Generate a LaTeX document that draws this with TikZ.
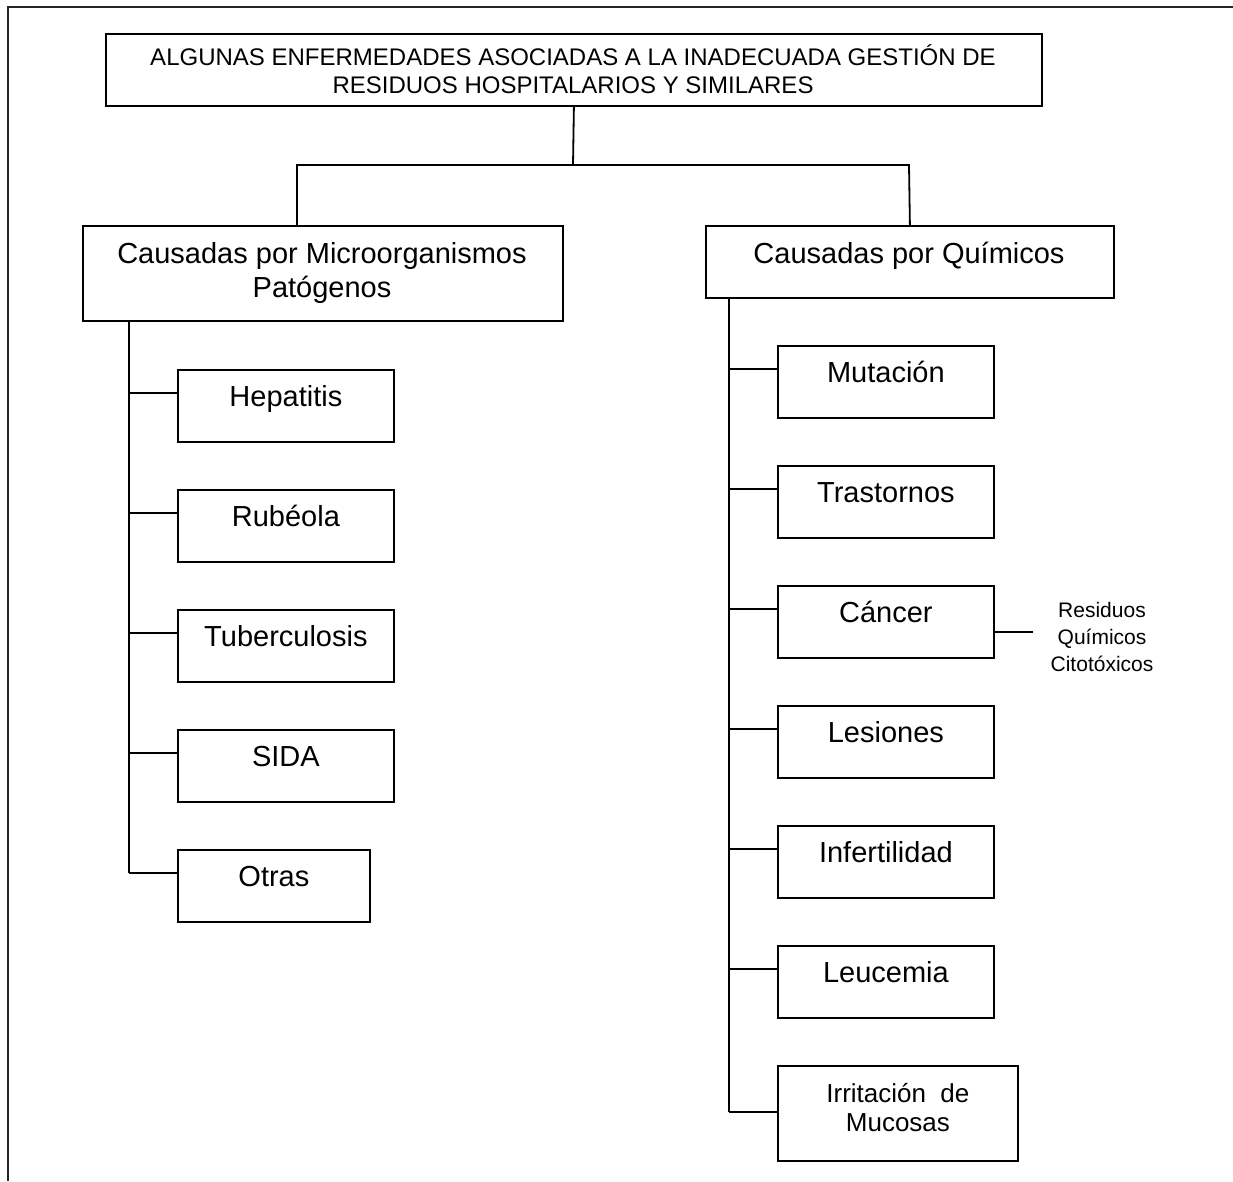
\documentclass[tikz,border=0pt]{standalone}
\usepackage{fontspec}
\setmainfont{Liberation Sans}
\usetikzlibrary{calc}
\begin{document}
\begin{tikzpicture}[x=1pt,y=-1pt,
  box/.style={draw, line width=1.8pt, rectangle, inner sep=0pt, anchor=north west},
  conn/.style={line width=1.8pt},
  frameline/.style={line width=1.6pt, draw=black!85},
  txt/.style={inner sep=0pt, anchor=base, font=\fontsize{29}{34}\selectfont},
  ttl/.style={inner sep=0pt, anchor=base, font=\fontsize{24}{28}\selectfont},
  sml/.style={inner sep=0pt, anchor=base, font=\fontsize{21}{27}\selectfont}]
\useasboundingbox (0,0) rectangle (1233,1181);

% page frame (open at right and bottom)
\coordinate (fTL) at (8,7);
\coordinate (fTR) at (1233,7);
\coordinate (fBL) at (8,1181);
\draw[frameline] (fTR) -- (fTL) -- (fBL);

% title
\node[box, minimum width=936pt, minimum height=72pt] (title) at (105,33) {};
\node[ttl] (title1) at (573,65) {ALGUNAS ENFERMEDADES ASOCIADAS A LA INADECUADA GESTIÓN DE};
\node[ttl] (title2) at (573,93) {RESIDUOS HOSPITALARIOS Y SIMILARES};

% main groups
\node[box, minimum width=480pt, minimum height=95pt] (lmain) at (82,225) {};
\node[txt] (lmain1) at (322,263) {Causadas por Microorganismos};
\node[txt] (lmain2) at (322,297) {Patógenos};
\node[box, minimum width=408pt, minimum height=72pt] (rmain) at (705,225) {};
\node[txt] (rmain1) at (909,263) {Causadas por Químicos};

% splitter below the title
\coordinate (split) at (573,165);
\coordinate (lknee) at (297,165);
\coordinate (rknee) at (909,165);
\draw[conn] (title.south) -- (split);
\draw[conn] (lmain.north -| lknee) -- (lknee) -- (rknee) -- (rmain.north);

% left column
\node[box, minimum width=216pt, minimum height=72pt] (hep) at (177,369) {};
\node[txt] (hepT) at (hep.center |- 0,406) {Hepatitis};
\node[box, minimum width=216pt, minimum height=72pt] (rub) at (177,489) {};
\node[txt] (rubT) at (rub.center |- 0,526) {Rubéola};
\node[box, minimum width=216pt, minimum height=72pt] (tub) at (177,609) {};
\node[txt] (tubT) at (tub.center |- 0,646) {Tuberculosis};
\node[box, minimum width=216pt, minimum height=72pt] (sida) at (177,729) {};
\node[txt] (sidaT) at (sida.center |- 0,766) {SIDA};
\node[box, minimum width=192pt, minimum height=72pt] (otr) at (177,849) {};
\node[txt] (otrT) at (otr.center |- 0,886) {Otras};

\coordinate (ltrunk) at (129,320);
\foreach \n in {hep,rub,tub,sida,otr}
  \draw[conn] ($(\n.north west)+(0,24)$) -- ($(\n.north west)+(-48,24)$);
\draw[conn] (ltrunk) -- ($(otr.north west)+(-48,24)$);

% right column
\node[box, minimum width=216pt, minimum height=72pt] (mut) at (777,345) {};
\node[txt] (mutT) at (mut.center |- 0,382) {Mutación};
\node[box, minimum width=216pt, minimum height=72pt] (tra) at (777,465) {};
\node[txt] (traT) at (tra.center |- 0,502) {Trastornos};
\node[box, minimum width=216pt, minimum height=72pt] (can) at (777,585) {};
\node[txt] (canT) at (can.center |- 0,622) {Cáncer};
\node[box, minimum width=216pt, minimum height=72pt] (les) at (777,705) {};
\node[txt] (lesT) at (les.center |- 0,742) {Lesiones};
\node[box, minimum width=216pt, minimum height=72pt] (inf) at (777,825) {};
\node[txt] (infT) at (inf.center |- 0,862) {Infertilidad};
\node[box, minimum width=216pt, minimum height=72pt] (leu) at (777,945) {};
\node[txt] (leuT) at (leu.center |- 0,982) {Leucemia};
\node[box, minimum width=240pt, minimum height=95pt] (irr) at (777,1065) {};
\node[txt, font=\fontsize{26}{29}\selectfont] (irrT1) at (irr.center |- 0,1102) {Irritación\ \ de};
\node[txt, font=\fontsize{26}{29}\selectfont] (irrT2) at (irr.center |- 0,1131) {Mucosas};

\coordinate (rtrunk) at (729,297);
\foreach \n in {mut,tra,can,les,inf,leu}
  \draw[conn] ($(\n.north west)+(0,24)$) -- ($(\n.north west)+(-48,24)$);
\draw[conn] ($(irr.north west)+(0,47)$) -- ($(irr.north west)+(-48,47)$);
\draw[conn] (rtrunk) -- ($(irr.north west)+(-48,47)$);

% side note on the cancer box
\coordinate (noteEnd) at (1033,632);
\draw[conn] (can.east |- noteEnd) -- (noteEnd);
\node[sml] (note1) at (1102,617) {Residuos};
\node[sml] (note2) at (1102,644) {Químicos};
\node[sml] (note3) at (1102,671) {Citotóxicos};
\end{tikzpicture}
\end{document}
